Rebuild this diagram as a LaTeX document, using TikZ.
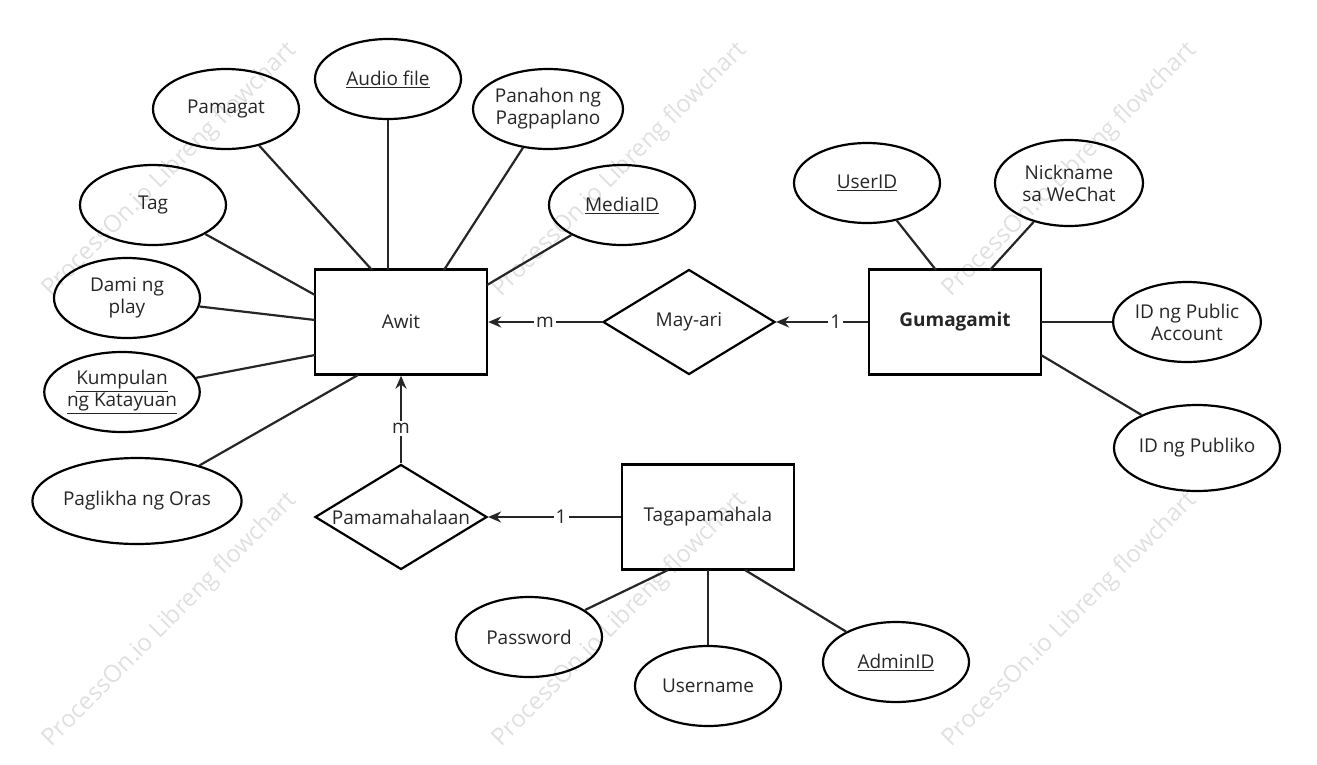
\documentclass[tikz,border=0pt]{standalone}
\usepackage{fontspec}
\setmainfont{Open Sans}
\usetikzlibrary{shapes.geometric,calc,arrows.meta}
\begin{document}
\begin{tikzpicture}[x=1pt,y=-1pt,
 every node/.style={font=\fontsize{19}{23}\selectfont,text=black!85},
 ent/.style={draw,line width=2.4pt,minimum width=172pt,minimum height=105pt,inner sep=0},
 rel/.style={draw,diamond,aspect=1.64,line width=2.2pt,minimum width=172pt,minimum height=105pt,inner sep=0},
 att/.style={draw,ellipse,line width=2.2pt,minimum width=146pt,minimum height=80pt,inner sep=0,align=center},
 ln/.style={line width=2.2pt,black!85},
 ar/.style={line width=2.2pt,black!85,-{Stealth[length=13pt,width=11pt]}},
 lab/.style={fill=white,inner sep=2pt},
 wm/.style={rotate=45,text=black!12,font=\fontsize{24}{28}\selectfont}]
\useasboundingbox (0,0) rectangle (1317,764);
\foreach \x/\y in {170/170,620/170,1070/170,170/620,620/620,1070/620}
  \node[wm] at (\x,\y) {ProcessOn.io Libreng flowchart};
\node[ent] (awit) at (401,322) {Awit};
\node[ent] (gum) at (955,322) {\textbf{Gumagamit}};
\node[ent] (tag2) at (708,517) {Tagapamahala};
\node[rel] (may) at (689,322) {May-ari};
\node[rel] (pam) at (401,517) {Pamamahalaan};
\node[att] (pamagat) at (226,109) {Pamagat};
\node[att] (audio) at (388,79) {\underline{Audio file}};
\node[att] (panahon) at (548,109) {Panahon ng\\[-1pt]Pagpaplano};
\node[att] (media) at (622,205) {\underline{MediaID}};
\node[att] (tag) at (153,205) {Tag};
\node[att] (dami) at (127,298) {Dami ng\\[-1pt]play};
\node[att] (kump) at (122,392) {\underline{Kumpulan}\\[-1pt]\underline{ng Katayuan}};
\node[att,minimum width=198pt,minimum height=86pt] (pag) at (137,501) {Paglikha ng Oras};
\node[att] (user) at (867,183) {\underline{UserID}};
\node[att,minimum width=148pt,minimum height=86pt] (nick) at (1069,183) {Nickname\\[-1pt]sa WeChat};
\node[att] (idpa) at (1187,322) {ID ng Public\\[-1pt]Account};
\node[att,minimum width=166pt,minimum height=86pt] (idp) at (1197,448) {ID ng Publiko};
\node[att] (pw) at (529,637) {Password};
\node[att] (un) at (708,686) {Username};
\node[att] (adm) at (896,662) {\underline{AdminID}};
\coordinate (a1) at (372,270);\coordinate (a2) at (388,270);\coordinate (a3) at (444,270);
\coordinate (a4) at (487,285);\coordinate (a5) at (315,295);\coordinate (a6) at (315,320);
\coordinate (a7) at (315,355);\coordinate (a8) at (358,375);
\coordinate (g1) at (936,270);\coordinate (g2) at (990,270);\coordinate (g3) at (1041,322);\coordinate (g4) at (1041,355);
\coordinate (t1) at (668,570);\coordinate (t2) at (708,570);\coordinate (t3) at (745,570);
\draw[ln] (pamagat)--(a1); \draw[ln] (audio)--(a2); \draw[ln] (panahon)--(a3);
\draw[ln] (media)--(a4); \draw[ln] (tag)--(a5); \draw[ln] (dami)--(a6);
\draw[ln] (kump)--(a7); \draw[ln] (pag)--(a8);
\draw[ln] (user)--(g1); \draw[ln] (nick)--(g2); \draw[ln] (idpa)--(g3); \draw[ln] (idp)--(g4);
\draw[ln] (pw)--(t1); \draw[ln] (un)--(t2); \draw[ln] (adm)--(t3);
\draw[ar] (may.west) -- node[lab]{m} (awit.east);
\draw[ar] (gum.west) -- node[lab,pos=0.35]{1} (may.east);
\draw[ar] (pam.north) -- node[lab,pos=0.4]{m} (awit.south);
\draw[ar] (tag2.west) -- node[lab,pos=0.45]{1} (pam.east);
\end{tikzpicture}
\end{document}
